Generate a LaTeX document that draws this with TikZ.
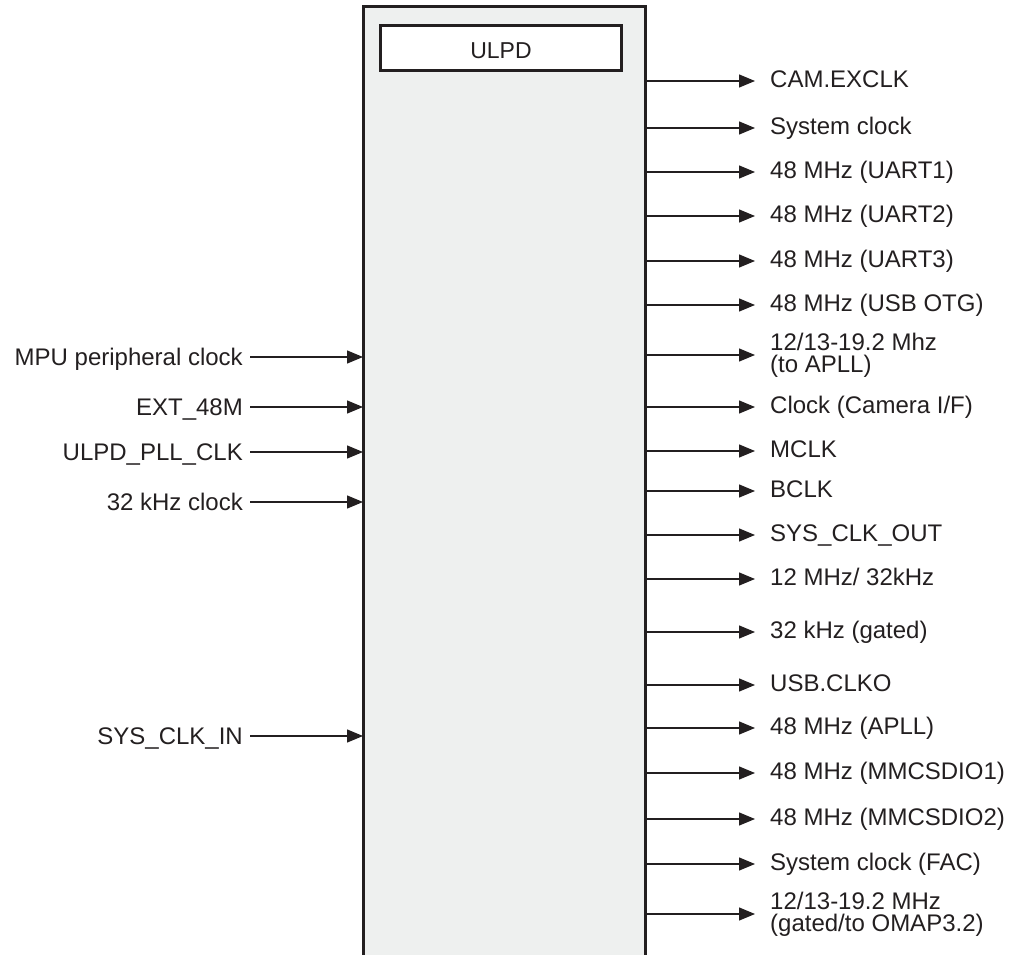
\documentclass[tikz,border=0pt]{standalone}
\usepackage{fontspec}
\setmainfont{Liberation Sans}
\usetikzlibrary{arrows.meta}

\begin{document}
\begin{tikzpicture}[
		x=1pt, y=-1pt,
		inlabel/.style={
			anchor=east, inner sep=0pt, font=\fontsize{24}{21}\selectfont,
			text height=16pt, text depth=0pt, text=linecol
		},
		outlabel/.style={
			anchor=west, inner sep=0pt, font=\fontsize{24}{21}\selectfont,
			text height=13pt, text depth=0pt, text=linecol
		},
		outlabeltwo/.style={
			anchor=west, inner sep=0pt, font=\fontsize{24}{22}\selectfont,
			align=left, text=linecol
		},
		sig/.style={
			-{Triangle[length=16pt, width=13pt]}, line width=1.3pt, draw=linecol
		}
		]
		
		\definecolor{linecol}{HTML}{231F20}
		\definecolor{blockcol}{HTML}{EEF0EF}
		
		\useasboundingbox (0,0) rectangle (1010,955);
		
		% ULPD block, runs off the bottom of the page
		\fill[blockcol] (363,7) rectangle (645,962);
		\draw[linecol, line width=3pt] (363,962) -- (363,7) -- (645,7) -- (645,962);
		\coordinate (blkW) at (363,7);
		\coordinate (blkE) at (645,7);
		
		\node[draw=linecol, line width=2.5pt, fill=white, inner sep=0pt,
		minimum width=241pt, minimum height=45pt,
		font=\fontsize{23}{24}\selectfont, text=linecol,
		text height=20.6pt, text depth=0pt] (ulpd) at (501,48) {ULPD};
		
		% inputs
		\node[inlabel] (mpuclk) at (243, 357) {MPU peripheral clock};
		\node[inlabel] (ext48)  at (243, 407) {EXT\_48M};
		\node[inlabel] (pllclk) at (243, 452) {ULPD\_PLL\_CLK};
		\node[inlabel] (clk32)  at (243, 502) {32 kHz clock};
		\node[inlabel] (sysin)  at (243, 736) {SYS\_CLK\_IN};
		
		\draw[sig] ([xshift=7pt]mpuclk.east) -- (mpuclk.east -| blkW);
		\draw[sig] ([xshift=7pt]ext48.east)  -- (ext48.east -| blkW);
		\draw[sig] ([xshift=7pt]pllclk.east) -- (pllclk.east -| blkW);
		\draw[sig] ([xshift=7pt]clk32.east)  -- (clk32.east -| blkW);
		\draw[sig] ([xshift=7pt]sysin.east)  -- (sysin.east -| blkW);
		
		% outputs
		\node[outlabel]    (camclk)  at (770,  81) {CAM.EXCLK};
		\node[outlabel]    (sysclk)  at (770, 128) {System clock};
		\node[outlabel]    (uart1)   at (770, 172) {48 MHz (UART1)};
		\node[outlabel]    (uart2)   at (770, 216) {48 MHz (UART2)};
		\node[outlabel]    (uart3)   at (770, 261) {48 MHz (UART3)};
		\node[outlabel]    (usbotg)  at (770, 305) {48 MHz (USB OTG)};
		\node[outlabeltwo] (toapll)  at (770, 355) {12/13-19.2 Mhz\\(to APLL)};
		\node[outlabel]    (camif)   at (770, 407) {Clock (Camera I/F)};
		\node[outlabel]    (mclk)    at (770, 451) {MCLK};
		\node[outlabel]    (bclk)    at (770, 491) {BCLK};
		\node[outlabel]    (sysout)  at (770, 535) {SYS\_CLK\_OUT};
		\node[outlabel]    (mhz12)   at (770, 579) {12 MHz/ 32kHz};
		\node[outlabel]    (gated32) at (770, 632) {32 kHz (gated)};
		\node[outlabel]    (usbclko) at (770, 685) {USB.CLKO};
		\node[outlabel]    (apll)    at (770, 728) {48 MHz (APLL)};
		\node[outlabel]    (mmc1)    at (770, 773) {48 MHz (MMCSDIO1)};
		\node[outlabel]    (mmc2)    at (770, 819) {48 MHz (MMCSDIO2)};
		\node[outlabel]    (facclk)  at (770, 864) {System clock (FAC)};
		\node[outlabeltwo] (toomap)  at (770, 914) {12/13-19.2 MHz\\(gated/to OMAP3.2)};
		
		\draw[sig] (camclk.west -| blkE)  -- ([xshift=-15pt]camclk.west);
		\draw[sig] (sysclk.west -| blkE)  -- ([xshift=-15pt]sysclk.west);
		\draw[sig] (uart1.west -| blkE)   -- ([xshift=-15pt]uart1.west);
		\draw[sig] (uart2.west -| blkE)   -- ([xshift=-15pt]uart2.west);
		\draw[sig] (uart3.west -| blkE)   -- ([xshift=-15pt]uart3.west);
		\draw[sig] (usbotg.west -| blkE)  -- ([xshift=-15pt]usbotg.west);
		\draw[sig] (toapll.west -| blkE)  -- ([xshift=-15pt]toapll.west);
		\draw[sig] (camif.west -| blkE)   -- ([xshift=-15pt]camif.west);
		\draw[sig] (mclk.west -| blkE)    -- ([xshift=-15pt]mclk.west);
		\draw[sig] (bclk.west -| blkE)    -- ([xshift=-15pt]bclk.west);
		\draw[sig] (sysout.west -| blkE)  -- ([xshift=-15pt]sysout.west);
		\draw[sig] (mhz12.west -| blkE)   -- ([xshift=-15pt]mhz12.west);
		\draw[sig] (gated32.west -| blkE) -- ([xshift=-15pt]gated32.west);
		\draw[sig] (usbclko.west -| blkE) -- ([xshift=-15pt]usbclko.west);
		\draw[sig] (apll.west -| blkE)    -- ([xshift=-15pt]apll.west);
		\draw[sig] (mmc1.west -| blkE)    -- ([xshift=-15pt]mmc1.west);
		\draw[sig] (mmc2.west -| blkE)    -- ([xshift=-15pt]mmc2.west);
		\draw[sig] (facclk.west -| blkE)  -- ([xshift=-15pt]facclk.west);
		\draw[sig] (toomap.west -| blkE)  -- ([xshift=-15pt]toomap.west);
		
	\end{tikzpicture}
\end{document}
